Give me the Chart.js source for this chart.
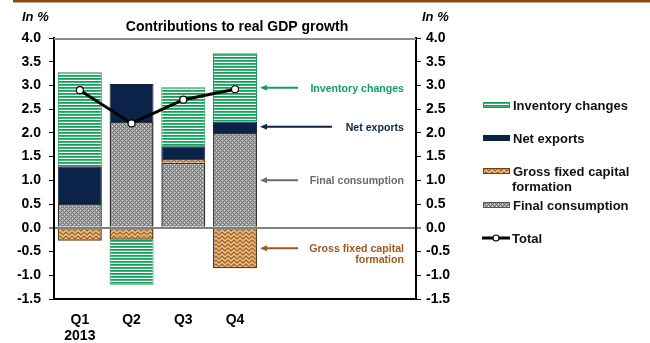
<!DOCTYPE html>
<html>
<head>
<meta charset="utf-8">
<title>Contributions to real GDP growth</title>
<script src="https://cdn.jsdelivr.net/npm/chart.js@4.4.1/dist/chart.umd.min.js"></script>
<style>
  html, body { margin: 0; padding: 0; background: #fff; }
  #wrap { width: 650px; height: 343px; position: relative; }
</style>
</head>
<body>
<div id="wrap"><canvas id="gdpChart" width="650" height="343"></canvas></div>
<script>
// quarters of 2013, last three slots left empty
const categories = [['Q1', '2013'], 'Q2', 'Q3', 'Q4', '', '', ''];
const finalConsumption = [0.5, 2.23, 1.37, 2.0, null, null, null];
const grossFixedCapital = [-0.27, -0.25, 0.08, -0.85, null, null, null];
const netExports = [0.8, 0.8, 0.27, 0.24, null, null, null];
const inventoryChanges = [1.98, -0.95, 1.24, 1.44, null, null, null];
const totalGrowth = [2.9, 2.2, 2.7, 2.92, null, null, null];
const yTicks = { min: -1.5, max: 4.0, step: 0.5 };

const GREEN = '#15a05a';
const NAVY = '#0b2348';
const BROWN = '#9c5a1e';
const GREY_TXT = '#6b6b6b';
const FONT = 'Arial, "Liberation Sans", sans-serif';

function makePattern(w, h, draw) {
    const c = document.createElement('canvas');
    c.width = w;
    c.height = h;
    const g = c.getContext('2d');
    draw(g, w, h);
    return g.createPattern(c, 'repeat');
}

// horizontal green stripes
const stripePattern = makePattern(1, 3, function (g) {
    g.fillStyle = '#ffffff'; g.fillRect(0, 0, 1, 3);
    g.fillStyle = GREEN; g.fillRect(0, 0, 1, 1);
    g.fillStyle = '#45b478'; g.fillRect(0, 1, 1, 1);
});

// grey cross hatch
const greyPattern = makePattern(4, 4, function (g) {
    g.fillStyle = '#a8a8a8'; g.fillRect(0, 0, 4, 4);
    g.fillStyle = '#727272';
    for (let x = 0; x < 4; x++) {
        for (let y = 0; y < 4; y++) {
            if ((x + y) % 4 == 0 || (x - y + 4) % 4 == 0) g.fillRect(x, y, 1, 1);
        }
    }
    g.fillStyle = '#d0d0d0'; g.fillRect(2, 0, 1, 1); g.fillRect(0, 2, 1, 1);
});

// tan zigzag
const tanPattern = makePattern(6, 4, function (g) {
    g.fillStyle = '#d39d5c'; g.fillRect(0, 0, 6, 4);
    const zig = [0, 1, 2, 2, 1, 0];
    g.fillStyle = '#9c5e26';
    for (let x = 0; x < 6; x++) g.fillRect(x, zig[x], 1, 1);
    g.fillStyle = '#e8c08e';
    for (let x = 0; x < 6; x++) g.fillRect(x, (zig[x] + 2) % 4, 1, 1);
});

// arrows and labels pointing at the Q4 bar, plus legend and headings
const decorations = {
    id: 'decorations',
    beforeDatasetsDraw(chart) {
        // grey top edge of the plot
        const a = chart.chartArea;
        const ctx = chart.ctx;
        ctx.save();
        ctx.strokeStyle = '#8c8c8c';
        ctx.lineWidth = 2;
        ctx.beginPath();
        ctx.moveTo(a.left, a.top + 1);
        ctx.lineTo(a.right, a.top + 1);
        ctx.stroke();
        ctx.restore();
    },
    afterDraw(chart) {
        const ctx = chart.ctx;
        const y = chart.scales.y;
        ctx.save();

        ctx.fillStyle = '#8b4a12';
        ctx.fillRect(13, 0, 637, 2.5);

        ctx.fillStyle = '#000';
        ctx.font = 'bold 14px ' + FONT;
        ctx.textAlign = 'center';
        ctx.textBaseline = 'middle';
        ctx.fillText('Contributions to real GDP growth', 237, 27);
        ctx.font = 'italic bold 13px ' + FONT;
        ctx.textAlign = 'left';
        ctx.fillText('In %', 22, 17);
        ctx.fillText('In %', 422, 17);

        const notes = [
            { text: ['Inventory changes'], at: 2.95, from: 298, color: GREEN },
            { text: ['Net exports'], at: 2.13, from: 332, color: NAVY },
            { text: ['Final consumption'], at: 1.0, from: 298, color: GREY_TXT },
            { text: ['Gross fixed capital', 'formation'], at: -0.43, from: 298, color: BROWN }
        ];
        ctx.font = 'bold 10.6px ' + FONT;
        ctx.textAlign = 'right';
        notes.forEach(function (n) {
            const py = y.getPixelForValue(n.at);
            ctx.strokeStyle = n.color;
            ctx.fillStyle = n.color;
            ctx.lineWidth = 2;
            ctx.beginPath();
            ctx.moveTo(265, py);
            ctx.lineTo(n.from, py);
            ctx.stroke();
            ctx.beginPath();
            ctx.moveTo(260, py);
            ctx.lineTo(267, py - 3);
            ctx.lineTo(267, py + 3);
            ctx.closePath();
            ctx.fill();
            n.text.forEach(function (t, i) {
                ctx.fillText(t, 404, py + 1 + i * 11);
            });
        });

        // legend
        const items = [
            { text: ['Inventory changes'], fill: stripePattern, border: GREEN, y: 105 },
            { text: ['Net exports'], fill: NAVY, border: NAVY, y: 138 },
            { text: ['Gross fixed capital', 'formation'], fill: tanPattern, border: '#6b4216', y: 171 },
            { text: ['Final consumption'], fill: greyPattern, border: '#555', y: 205 }
        ];
        ctx.font = 'bold 13px ' + FONT;
        ctx.textAlign = 'left';
        items.forEach(function (it) {
            ctx.fillStyle = it.fill;
            ctx.fillRect(483, it.y - 3, 27, 6);
            ctx.strokeStyle = it.border;
            ctx.lineWidth = 1;
            ctx.strokeRect(483.5, it.y - 2.5, 26, 5);
            ctx.fillStyle = '#111';
            it.text.forEach(function (t, i) {
                ctx.fillText(t, i == 0 ? 513 : 512, it.y + 1 + i * 15);
            });
        });
        ctx.strokeStyle = '#000';
        ctx.lineWidth = 3;
        ctx.beginPath();
        ctx.moveTo(482, 238);
        ctx.lineTo(510, 238);
        ctx.stroke();
        ctx.beginPath();
        ctx.arc(496, 238, 3, 0, Math.PI * 2);
        ctx.fillStyle = '#fff';
        ctx.fill();
        ctx.lineWidth = 1.2;
        ctx.stroke();
        ctx.fillStyle = '#111';
        ctx.fillText('Total', 512, 239);

        ctx.restore();
    }
};

const tickFont = { family: FONT, size: 14, weight: 'bold', lineHeight: 1.15 };

function yAxis(position) {
    return {
        position: position,
        stacked: true,
        min: yTicks.min,
        max: yTicks.max,
        border: { display: true, color: '#000', width: 2 },
        grid: {
            drawOnChartArea: position == 'left',
            color: c => (c.tick && c.tick.value === 0) ? '#808080' : 'rgba(0,0,0,0)',
            lineWidth: c => (c.tick && c.tick.value === 0) ? 2 : 1,
            tickColor: '#000',
            tickLength: 5,
            tickWidth: 1
        },
        ticks: {
            stepSize: yTicks.step,
            color: '#000',
            font: tickFont,
            padding: position == 'left' ? 8 : 5,
            callback: v => Number(v).toFixed(1)
        },
        afterFit: function (scale) { scale.width = position == 'left' ? 54 : 50; }
    };
}

const ctx = document.getElementById('gdpChart');

const myChart = new Chart(ctx, {
    type: 'bar',
    data: {
        labels: categories,
        datasets: [
            {
                type: 'line',
                label: 'Total',
                data: totalGrowth,
                stack: 'total',
                order: 0,
                borderColor: '#000',
                borderWidth: 3,
                pointRadius: 3.5,
                pointBackgroundColor: '#fff',
                pointBorderColor: '#000',
                pointBorderWidth: 1.2,
                tension: 0
            },
            {
                label: 'Final consumption',
                data: finalConsumption,
                backgroundColor: greyPattern,
                borderColor: '#333',
                borderWidth: 1.5,
                order: 1
            },
            {
                label: 'Gross fixed capital formation',
                data: grossFixedCapital,
                backgroundColor: tanPattern,
                borderColor: '#5e3a14',
                borderWidth: 1.5,
                order: 1
            },
            {
                label: 'Net exports',
                data: netExports,
                backgroundColor: NAVY,
                borderColor: NAVY,
                borderWidth: 1,
                order: 1
            },
            {
                label: 'Inventory changes',
                data: inventoryChanges,
                backgroundColor: stripePattern,
                borderColor: GREEN,
                borderWidth: 1,
                order: 1
            }
        ]
    },
    options: {
        responsive: false,
        animation: false,
        layout: { padding: { top: 38, right: 184, left: 0, bottom: 0 } },
        datasets: {
            bar: { categoryPercentage: 1, barPercentage: 0.85 }
        },
        plugins: {
            legend: { display: false },
            title: { display: false },
            tooltip: { enabled: false }
        },
        scales: {
            x: {
                stacked: true,
                border: { display: true, color: '#000', width: 2 },
                grid: { display: false },
                ticks: { color: '#000', font: tickFont, padding: 5, maxRotation: 0 },
                afterFit: function (scale) { scale.height = 44; }
            },
            y: yAxis('left'),
            y1: yAxis('right')
        }
    },
    plugins: [decorations]
});
</script>
</body>
</html>
